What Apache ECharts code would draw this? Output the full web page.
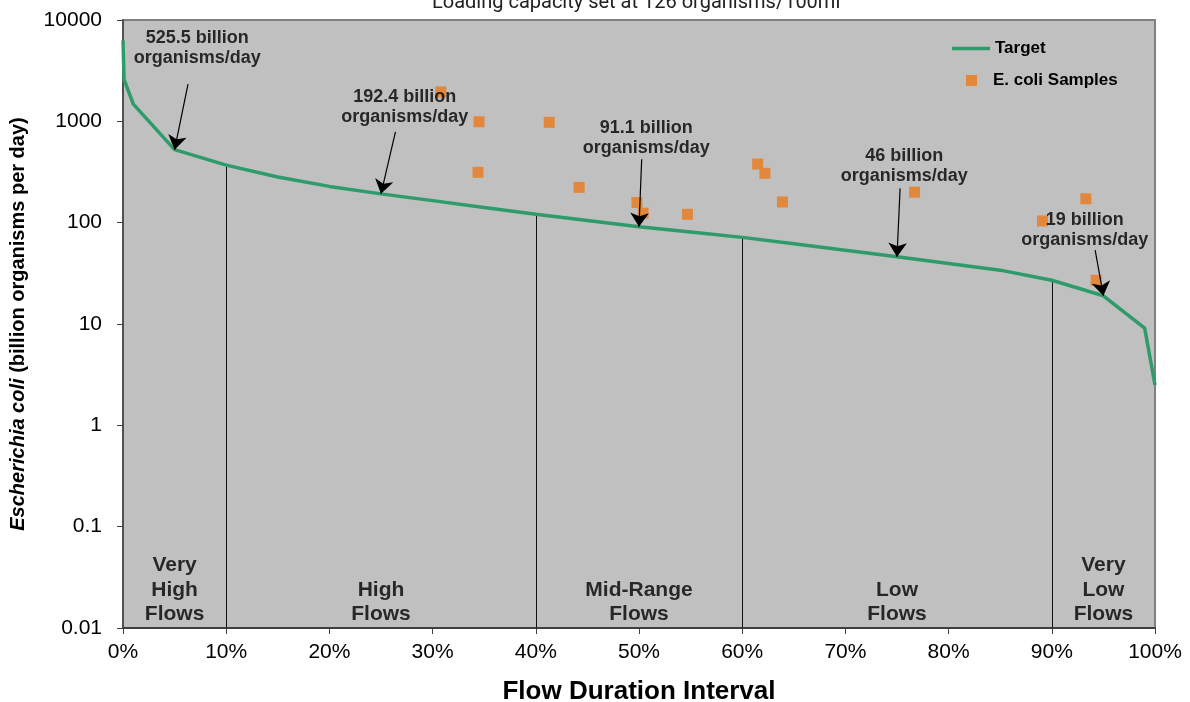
<!DOCTYPE html>
<html>
<head>
<meta charset="utf-8">
<script src="https://cdn.jsdelivr.net/npm/echarts@6/dist/echarts.min.js"></script>
<style>
html,body{margin:0;padding:0;background:#fff;}
#chart{width:1190px;height:702px;}
</style>
</head>
<body>
<div id="chart"></div>
<script>
// Flow duration interval (%) and target load curve (billion organisms/day)
const fdi = [0, 0.1, 1, 5, 10, 15, 20, 25, 30, 35, 40, 45, 50, 55, 60, 65, 70, 75, 80, 85, 90, 95, 99, 100];
const target = [6300, 2600, 1480, 525.5, 370, 282, 228, 192.4, 165, 141, 121, 105, 91.1, 81, 71.6, 62, 53.5, 46, 39.6, 34, 27, 19, 9.1, 2.5];

// E. coli samples
const sampleX = [30.8, 34.5, 34.4, 41.3, 44.2, 49.8, 50.4, 54.7, 61.5, 62.2, 63.9, 76.7, 89.1, 93.3, 94.3];
const sampleY = [1950, 990, 314, 977, 223, 158, 124, 121, 379, 307, 160, 200, 104, 172, 27];

// annotations
const annoText = ['525.5 billion\norganisms/day', '192.4 billion\norganisms/day', '91.1 billion\norganisms/day', '46 billion\norganisms/day', '19 billion\norganisms/day'];
const annoPos = [[7.2, 5300], [27.3, 1384], [50.7, 685], [75.7, 362], [93.2, 85.3]];
const arrowFrom = [[6.3, 2335], [26.4, 785], [50.26, 422], [75.3, 218], [94.2, 53.7]];
const arrowTo = [[5, 525.5], [25, 192.4], [50, 91.1], [75, 46], [95, 19]];

// flow regimes
const regimeNames = ['Very\nHigh\nFlows', 'High\nFlows', 'Mid-Range\nFlows', 'Low\nFlows', 'Very\nLow\nFlows'];
const regimeCenters = [5, 25, 50, 75, 95];
const regimeBounds = [10, 40, 60, 90];

const titleText = 'Loading capacity set at 126 organisms/100ml';
const xName = 'Flow Duration Interval';
const yMin = 0.01, yMax = 10000;

const FONT = 'Arial, "Liberation Sans", sans-serif';

const chart = echarts.init(document.getElementById('chart'), null, {renderer: 'canvas'});

const targetData = fdi.map((x, i) => [x, target[i]]);
const sampleData = sampleX.map((x, i) => [x, sampleY[i]]);
const boundLines = regimeBounds.map(b => {
  const i = fdi.indexOf(b);
  return [{coord: [b, yMin]}, {coord: [b, target[i]]}];
});
const arrowLines = arrowFrom.map((p, i) => [{coord: p}, {coord: arrowTo[i]}]);

const option = {
  animation: false,
  backgroundColor: '#ffffff',
  title: {
    text: titleText,
    left: 427,
    top: -12,
    textStyle: {fontFamily: 'Roboto, sans-serif', fontSize: 20, fontWeight: 'normal', color: '#222'}
  },
  legend: [
    {
      data: [{name: 'Target', icon: 'path://M0,0H38V3.5H0Z'}],
      left: 952, top: 40, padding: 0,
      itemWidth: 38, itemHeight: 3.5, itemGap: 0,
      textStyle: {fontFamily: FONT, fontSize: 17, fontWeight: 'bold', color: '#000'},
      selectedMode: false
    },
    {
      data: [{name: 'E. coli Samples', icon: 'rect'}],
      left: 966, top: 72, padding: 0,
      itemWidth: 11, itemHeight: 11, itemGap: 0,
      textStyle: {fontFamily: FONT, fontSize: 17, fontWeight: 'bold', color: '#000', padding: [0, 0, 0, 11]},
      selectedMode: false
    }
  ],
  grid: {
    left: 123, right: 35, top: 20, bottom: 74,
    outerBoundsMode: 'none', containLabel: false,
    show: true, backgroundColor: '#C0C0C0', borderColor: '#808080', borderWidth: 2
  },
  xAxis: {
    type: 'value', min: 0, max: 100, interval: 10,
    axisLine: {show: true, onZero: false, lineStyle: {color: '#404040', width: 2}},
    axisTick: {show: true, length: 6, lineStyle: {color: '#404040', width: 1}},
    splitLine: {show: false},
    axisLabel: {formatter: '{value}%', fontFamily: FONT, fontSize: 21, color: '#000', margin: 14},
    name: xName, nameLocation: 'middle', nameGap: 51,
    nameTextStyle: {fontFamily: FONT, fontSize: 26, fontWeight: 'bold', color: '#000'}
  },
  yAxis: {
    type: 'log', logBase: 10, min: yMin, max: yMax,
    axisLine: {show: true, lineStyle: {color: '#404040', width: 1.5}},
    axisTick: {show: true, length: 6, lineStyle: {color: '#404040', width: 1}},
    splitLine: {show: false},
    axisLabel: {
      fontFamily: FONT, fontSize: 21, color: '#000', margin: 21,
      formatter: v => String(+Number(v).toPrecision(6))
    },
    name: '{i|Escherichia coli} {b|(billion organisms per day)}',
    nameLocation: 'middle', nameGap: 95,
    nameTextStyle: {
      fontFamily: FONT, fontSize: 20, fontWeight: 'bold', color: '#000',
      rich: {
        i: {fontFamily: FONT, fontSize: 20, fontWeight: 'bold', fontStyle: 'italic', color: '#000'},
        b: {fontFamily: FONT, fontSize: 20, fontWeight: 'bold', color: '#000'}
      }
    }
  },
  series: [
    {
      name: 'Target', type: 'line', data: targetData,
      symbol: 'none', showSymbol: false,
      lineStyle: {color: '#2E9B6A', width: 3.5},
      itemStyle: {color: '#2E9B6A'},
      z: 3,
      markLine: {
        silent: true, symbol: ['none', 'none'], label: {show: false},
        lineStyle: {color: '#111', width: 1, type: 'solid'},
        data: boundLines, z: 2
      }
    },
    {
      name: 'E. coli Samples', type: 'scatter', data: sampleData,
      symbol: 'rect', symbolSize: 11,
      itemStyle: {color: '#E2883C', opacity: 1},
      z: 4
    },
    {
      name: 'annotations', type: 'scatter',
      data: annoPos,
      symbolSize: 1, itemStyle: {color: 'rgba(0,0,0,0)'},
      silent: true, z: 6,
      label: {
        show: true, position: 'inside',
        formatter: p => annoText[p.dataIndex],
        fontFamily: FONT, fontSize: 18, fontWeight: 'bold', color: '#000', lineHeight: 20, align: 'center'
      },
      markLine: {
        silent: true, symbol: ['none', 'arrow'], symbolSize: 14, label: {show: false},
        lineStyle: {color: '#000', width: 1.2, type: 'solid'},
        data: arrowLines
      }
    },
    {
      name: 'regimes', type: 'scatter',
      data: regimeCenters.map(c => [c, yMin]),
      symbolSize: 1, itemStyle: {color: 'rgba(0,0,0,0)'},
      silent: true, z: 6,
      label: {
        show: true, position: 'top', distance: 1,
        formatter: p => regimeNames[p.dataIndex],
        fontFamily: FONT, fontSize: 21, fontWeight: 'bold', color: '#000', lineHeight: 24.5, align: 'center'
      }
    }
  ]
};
chart.setOption(option);
</script>
</body>
</html>
